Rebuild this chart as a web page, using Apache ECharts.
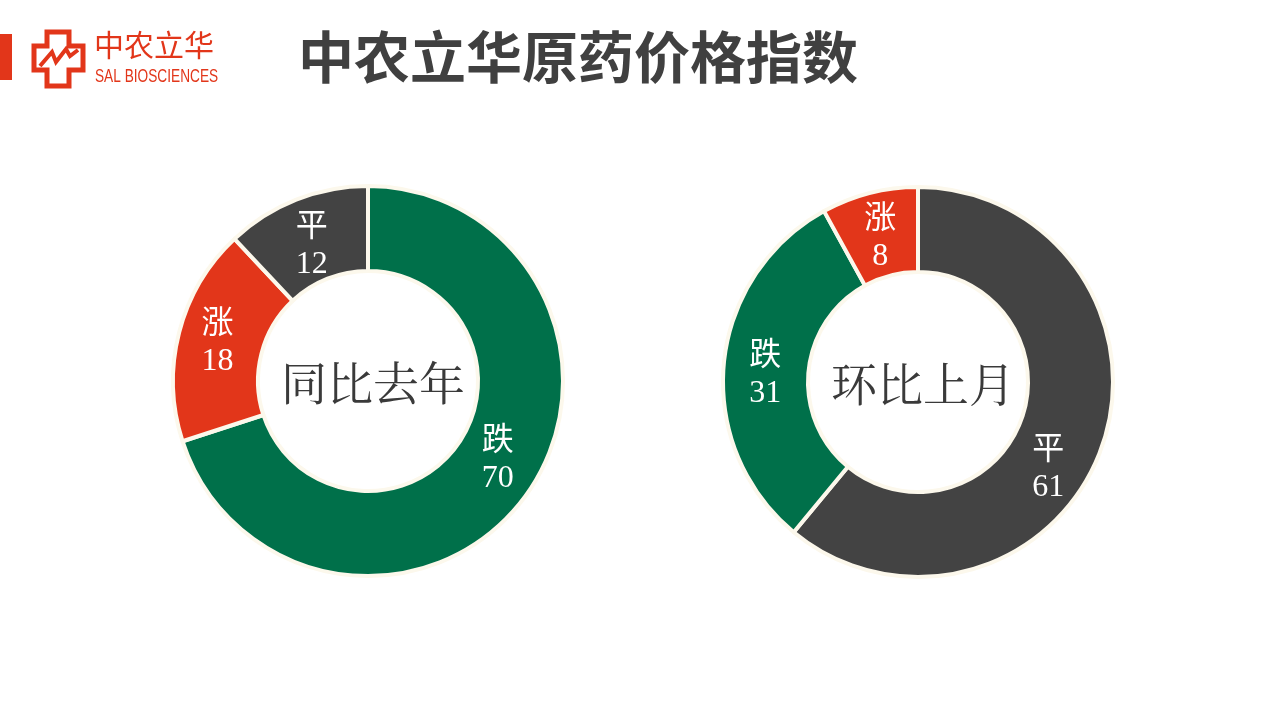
<!DOCTYPE html>
<html>
<head>
<meta charset="utf-8">
<script src="https://cdn.jsdelivr.net/npm/echarts@6/dist/echarts.min.js"></script>
<style>
html,body{margin:0;padding:0;background:#fff;}
#chart{width:1280px;height:720px;}
</style>
</head>
<body>
<div id="chart"></div>
<script>
const pageTitle = '中农立华原药价格指数';
const yoyTitle = '同比去年';
const yoyCategories = ['跌', '涨', '平'];
const yoyValues = [70, 18, 12];
const momTitle = '环比上月';
const momCategories = ['平', '跌', '涨'];
const momValues = [61, 31, 8];
const categoryColors = { '跌': '#00704a', '涨': '#e2361a', '平': '#434343' };

const chart = echarts.init(document.getElementById('chart'));
const labelFont = '"Liberation Serif", "DejaVu Serif", "Noto Sans CJK SC", serif';

function buildData(cats, vals) {
  return cats.map((c, i) => ({ name: c, value: vals[i], itemStyle: { color: categoryColors[c] } }));
}

function pieSeries(center, cats, vals, adjust) {
  return {
    type: 'pie',
    center: center,
    radius: [110, 195],
    startAngle: 90,
    clockwise: true,
    silent: true,
    data: buildData(cats, vals),
    itemStyle: { borderColor: '#fcf8ec', borderWidth: 4 },
    label: {
      show: true,
      position: 'inside',
      formatter: '{b}\n{c}',
      color: '#ffffff',
      fontSize: 32,
      lineHeight: 37,
      fontFamily: labelFont
    },
    labelLine: { show: false },
    labelLayout: function (p) {
      const a = adjust[p.dataIndex] || [0, 0];
      return { dx: a[0], dy: a[1] };
    }
  };
}

const option = {
  backgroundColor: '#ffffff',
  animation: false,
  series: [
    pieSeries([368, 381], yoyCategories, yoyValues, { 0: [4, -12], 1: [0, 1], 2: [1, 10] }),
    pieSeries([918, 382], momCategories, momValues, { 0: [-16, 34], 1: [2, 8], 2: [1, 7] })
  ],
  graphic: [
    { type: 'rect', shape: { x: 0, y: 34, width: 12, height: 46 }, style: { fill: '#e2361a' } },
    { type: 'polygon', shape: { points: [[47,32],[69,32],[69,46],[83,46],[83,70],[69,70],[69,86],[47,86],[47,70],[34,70],[34,46],[47,46]] },
      style: { fill: 'none', stroke: '#e2361a', lineWidth: 5, lineJoin: 'miter' } },
    { type: 'polyline', shape: { points: [[40,66],[52,52],[56,62],[66,49],[70,56],[78,50]] },
      style: { fill: 'none', stroke: '#e2361a', lineWidth: 4 } },
    { type: 'text', left: 94, top: 30, style: { text: '中农立华', fill: '#e2361a', font: '30px "Noto Sans CJK SC"' } },
    { type: 'text', x: 95, y: 68, scaleX: 0.76, style: { text: 'SAL BIOSCIENCES', fill: '#e2361a', font: '18px "Liberation Sans", sans-serif' } },
    { type: 'text', left: 298, top: 29, style: { text: pageTitle, fill: '#404040', font: 'bold 56px "Noto Sans CJK SC"' } },
    { type: 'text', x: 373, y: 383, style: { text: yoyTitle, fill: '#3a3a3a', font: '46px "Noto Serif CJK SC", "Noto Sans CJK SC"', align: 'center', verticalAlign: 'middle' } },
    { type: 'text', x: 923, y: 384, style: { text: momTitle, fill: '#3a3a3a', font: '46px "Noto Serif CJK SC", "Noto Sans CJK SC"', align: 'center', verticalAlign: 'middle' } }
  ]
};
chart.setOption(option);
</script>
</body>
</html>
